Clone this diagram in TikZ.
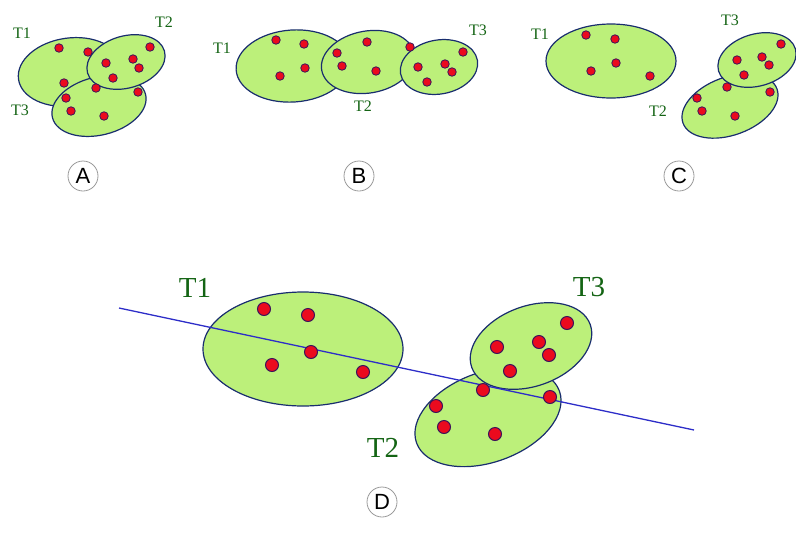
\documentclass[tikz,border=0pt]{standalone}
\usepackage{fontspec}
\setmainfont{Liberation Serif}
\newfontfamily\lettfont{Liberation Sans}
\definecolor{blobfill}{RGB}{188,240,122}
\definecolor{blobline}{RGB}{25,45,110}
\definecolor{dotred}{RGB}{235,10,30}
\definecolor{dotline}{RGB}{60,20,90}
\definecolor{labgreen}{RGB}{20,100,20}
\definecolor{linblue}{RGB}{45,45,200}
\tikzset{
  blob/.style={fill=blobfill,draw=blobline,line width=1.2pt},
  sdot/.style={circle,fill=dotred,draw=dotline,line width=0.8pt,inner sep=0pt,minimum size=8.5pt},
  bdot/.style={circle,fill=dotred,draw=dotline,line width=1pt,inner sep=0pt,minimum size=13pt},
  slab/.style={text=labgreen,font=\fontsize{16}{16}\selectfont,inner sep=0pt},
  blab/.style={text=labgreen,font=\fontsize{29}{29}\selectfont,inner sep=0pt},
  letter/.style={circle,draw=black!40,line width=0.8pt,minimum size=30pt,inner sep=0pt,font=\lettfont\fontsize{22}{22}\selectfont},
}
\begin{document}
\begin{tikzpicture}[x=1pt,y=-1pt]
\useasboundingbox (0,0) rectangle (796,547);
% ---------- Panel A ----------
\draw[blob,rotate around={8:(70,72)}] (70,72) ellipse [x radius=52, y radius=34];
\draw[blob,rotate around={14:(99,106)}] (99,106) ellipse [x radius=48, y radius=29];
\draw[blob,rotate around={16:(126,62)}] (126,62) ellipse [x radius=40, y radius=26];
\foreach \p [count=\i] in {(59,48),(88,52),(150,47),(133,59),(139,68),(106,63),(113,78),(64,83),(96,88),(66,98),(71,111),(104,116),(138,92)}
  \node[sdot] (a\i) at \p {};
\node[slab] (aT1) at (22,33) {T1};
\node[slab] (aT2) at (164,22) {T2};
\node[slab] (aT3) at (20,110) {T3};
\node[letter] (la) at (83,176) {A};
% ---------- Panel B ----------
\draw[blob,rotate around={4:(293,66)}] (293,66) ellipse [x radius=57, y radius=36];
\draw[blob,rotate around={10:(368,62)}] (368,62) ellipse [x radius=47, y radius=31];
\draw[blob,rotate around={10:(439,67)}] (439,67) ellipse [x radius=39, y radius=27];
\foreach \p [count=\i] in {(276,40),(304,44),(305,68),(280,76),(337,53),(342,66),(367,42),(410,47),(376,71),(418,67),(445,64),(452,72),(463,52),(427,82)}
  \node[sdot] (b\i) at \p {};
\node[slab] (bT1) at (222,48) {T1};
\node[slab] (bT2) at (363,106) {T2};
\node[slab] (bT3) at (478,30) {T3};
\node[letter] (lb) at (359,176) {B};
% ---------- Panel C ----------
\draw[blob] (611,61) ellipse [x radius=65, y radius=37];
\draw[blob,rotate around={20:(730,106)}] (730,106) ellipse [x radius=50, y radius=29];
\draw[blob,rotate around={16:(757,60)}] (757,60) ellipse [x radius=40, y radius=26];
\foreach \p [count=\i] in {(586,35),(615,39),(616,63),(591,71),(650,76),(781,44),(737,60),(762,57),(769,65),(744,75),(727,87),(770,92),(697,98),(702,111),(735,116)}
  \node[sdot] (c\i) at \p {};
\node[slab] (cT1) at (540,34) {T1};
\node[slab] (cT2) at (658,111) {T2};
\node[slab] (cT3) at (730,20) {T3};
\node[letter] (lc) at (679,176) {C};
% ---------- Panel D ----------
\draw[blob] (303,349) ellipse [x radius=100, y radius=57];
\draw[blob,rotate around={20:(488,417)}] (488,417) ellipse [x radius=76, y radius=45];
\draw[blob,rotate around={20:(531,346)}] (531,346) ellipse [x radius=63, y radius=40];
\coordinate (ls) at (119,308);
\coordinate (le) at (694,430);
\draw[linblue,line width=1.3pt] (ls) -- (le);
\foreach \p [count=\i] in {(264,309),(308,315),(311,352),(272,365),(363,372),(567,323),(497,347),(539,342),(549,355),(510,371),(483,390),(550,397),(436,406),(444,427),(495,434)}
  \node[bdot] (d\i) at \p {};
\node[blab] (dT1) at (195,288) {T1};
\node[blab] (dT2) at (383,448) {T2};
\node[blab] (dT3) at (589,287) {T3};
\node[letter] (ld) at (382,502) {D};
\end{tikzpicture}
\end{document}
